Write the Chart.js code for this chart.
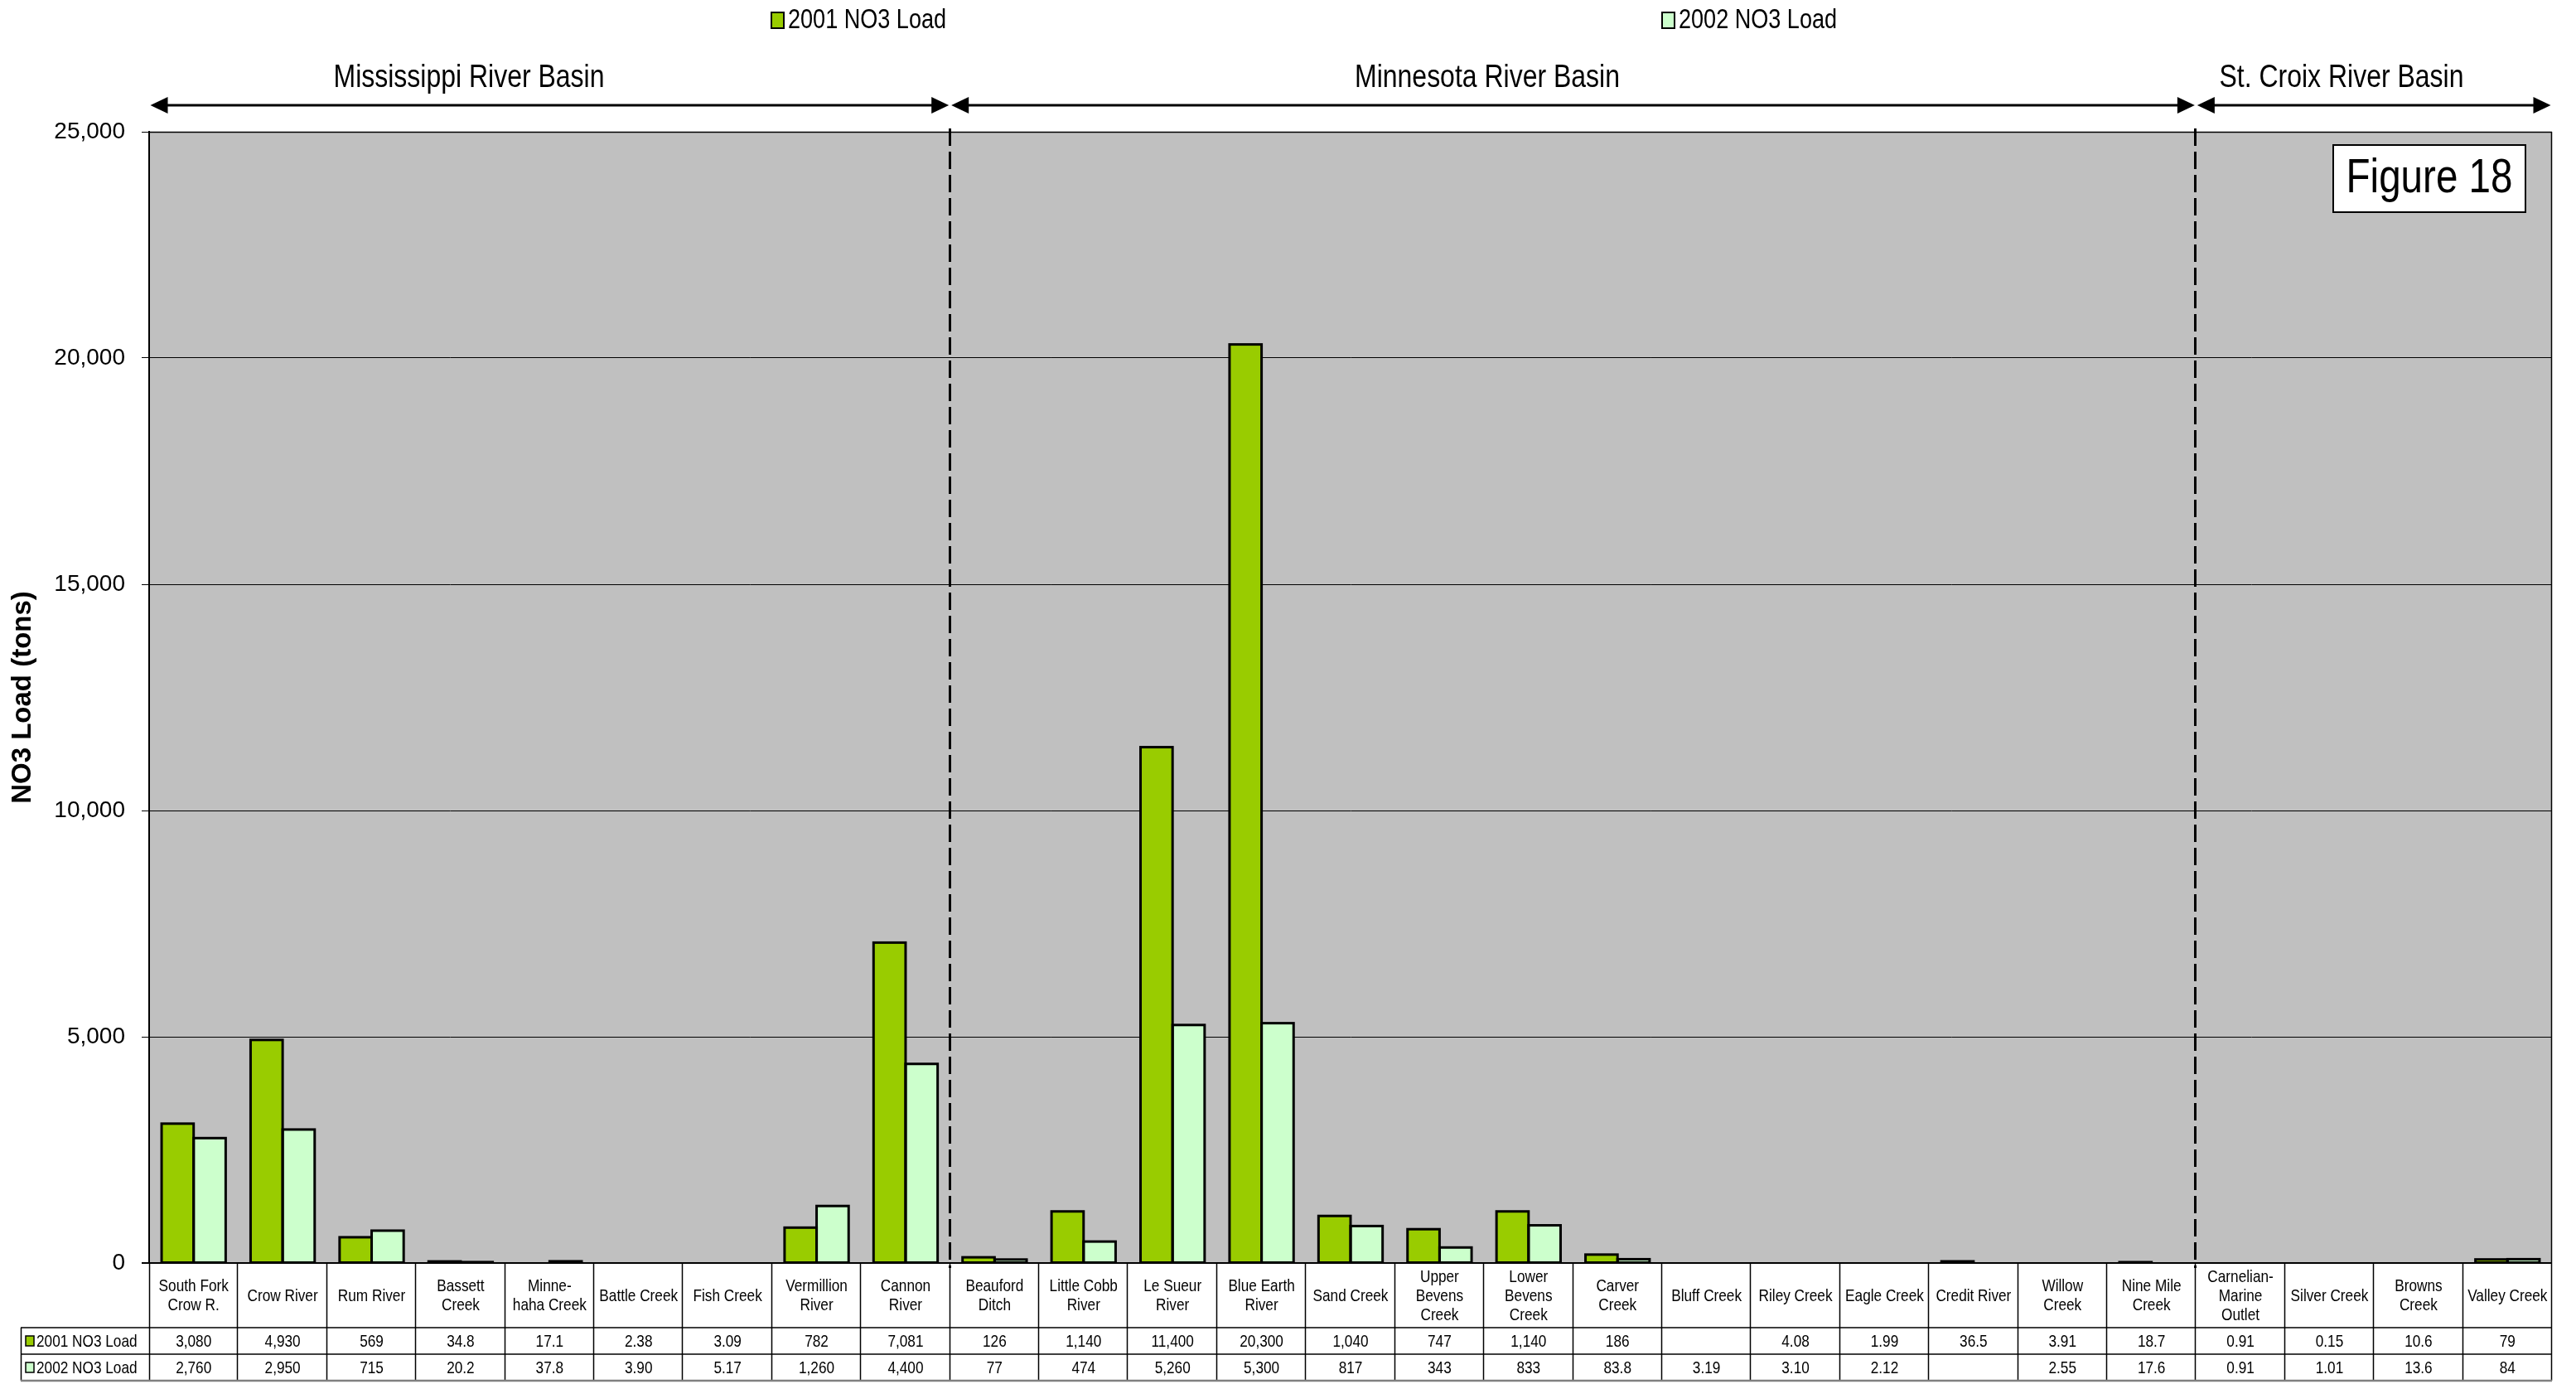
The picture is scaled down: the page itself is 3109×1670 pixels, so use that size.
<!DOCTYPE html>
<html>
<head>
<meta charset="utf-8">
<script src="https://cdn.jsdelivr.net/npm/chart.js@4.4.1/dist/chart.umd.min.js"></script>
<style>
html,body{margin:0;padding:0;background:#ffffff;}
#wrap{width:3109px;height:1670px;position:relative;}
</style>
</head>
<body>
<div id="wrap"><canvas id="c" width="3109" height="1670"></canvas></div>
<script>
// ---------------- DATA ----------------
const categories = [
  ['South Fork','Crow R.'], ['Crow River'], ['Rum River'], ['Bassett','Creek'], ['Minne-','haha Creek'],
  ['Battle Creek'], ['Fish Creek'], ['Vermillion','River'], ['Cannon','River'],
  ['Beauford','Ditch'], ['Little Cobb','River'], ['Le Sueur','River'], ['Blue Earth','River'], ['Sand Creek'],
  ['Upper','Bevens','Creek'], ['Lower','Bevens','Creek'], ['Carver','Creek'], ['Bluff Creek'], ['Riley Creek'],
  ['Eagle Creek'], ['Credit River'], ['Willow','Creek'], ['Nine Mile','Creek'],
  ['Carnelian-','Marine','Outlet'], ['Silver Creek'], ['Browns','Creek'], ['Valley Creek']
];
const seriesNames = ['2001 NO3 Load', '2002 NO3 Load'];
const load2001 = [3080, 4930, 569, 34.8, 17.1, 2.38, 3.09, 782, 7081, 126, 1140, 11400, 20300, 1040, 747, 1140, 186, null, 4.08, 1.99, 36.5, 3.91, 18.7, 0.91, 0.15, 10.6, 79];
const load2002 = [2760, 2950, 715, 20.2, 37.8, 3.90, 5.17, 1260, 4400, 77, 474, 5260, 5300, 817, 343, 833, 83.8, 3.19, 3.10, 2.12, null, 2.55, 17.6, 0.91, 1.01, 13.6, 84];
const table2001 = ['3,080','4,930','569','34.8','17.1','2.38','3.09','782','7,081','126','1,140','11,400','20,300','1,040','747','1,140','186','','4.08','1.99','36.5','3.91','18.7','0.91','0.15','10.6','79'];
const table2002 = ['2,760','2,950','715','20.2','37.8','3.90','5.17','1,260','4,400','77','474','5,260','5,300','817','343','833','83.8','3.19','3.10','2.12','','2.55','17.6','0.91','1.01','13.6','84'];
const yTicks = [0, 5000, 10000, 15000, 20000, 25000];
const basinNames = ['Mississippi River Basin', 'Minnesota River Basin', 'St. Croix River Basin'];
const basinFirstCategory = [0, 9, 23];
const basinLastCategory = [8, 22, 26];
const yTitle = 'NO3 Load (tons)';
const figureLabel = 'Figure 18';

// ---------------- STYLE ----------------
const seriesColors = ['#99CC00', '#CCFFCC'];
const plotBg = '#C0C0C0';
const SANS = '"Liberation Sans", Arial, sans-serif';
function fontAvailable(name){
  const c = document.createElement('canvas').getContext('2d');
  const s = 'abcdefghijklmWWiil0123';
  c.font = '40px monospace'; const a = c.measureText(s).width;
  c.font = '40px "' + name + '", monospace'; const b = c.measureText(s).width;
  return a !== b;
}
const HAS_NARROW = fontAvailable('Liberation Sans Narrow');
function narrowText(ctx, text, x, y, size, align, weight){
  ctx.save();
  ctx.textAlign = align || 'center';
  ctx.textBaseline = 'middle';
  ctx.fillStyle = '#000';
  if (HAS_NARROW){
    ctx.font = (weight||'normal') + ' ' + size + 'px "Liberation Sans Narrow", ' + SANS;
    ctx.fillText(text, x, y);
  } else {
    ctx.font = (weight||'normal') + ' ' + size + 'px ' + SANS;
    ctx.translate(x, y); ctx.scale(0.82, 1);
    ctx.fillText(text, 0, 0);
  }
  ctx.restore();
}

function boundaryX(a, i){ // left boundary of category i
  const n = categories.length;
  const w = (a.right - a.left) / n;
  return a.left + i * w;
}

const decorPlugin = {
  id: 'decor',
  beforeDraw(chart){
    const {ctx, chartArea: a} = chart;
    ctx.save();
    ctx.fillStyle = '#fff';
    ctx.fillRect(0, 0, chart.width, chart.height);
    ctx.fillStyle = plotBg;
    ctx.fillRect(a.left, a.top, a.right - a.left, a.bottom - a.top);
    ctx.restore();
  },
  afterDatasetsDraw(chart){
    const {ctx} = chart;
    ctx.save();
    ctx.strokeStyle = '#000';
    ctx.lineWidth = 3;
    ctx.lineJoin = 'miter';
    chart.data.datasets.forEach((ds, di) => {
      const meta = chart.getDatasetMeta(di);
      meta.data.forEach((bar, i) => {
        if (ds.data[i] === null || ds.data[i] === undefined) return;
        const h = bar.base - bar.y;
        if (h < 0.5) return;
        ctx.strokeRect(bar.x - bar.width / 2, bar.y, bar.width, h);
      });
    });
    ctx.restore();
  },
  afterDraw(chart){
    const {ctx, chartArea: a} = chart;
    const xs = chart.scales.x;
    const n = categories.length;
    ctx.save();

    // plot frame (right / top) and zero line
    ctx.strokeStyle = '#000';
    ctx.lineWidth = 1.5;
    ctx.beginPath();
    ctx.moveTo(a.left, a.top + 0.5); ctx.lineTo(a.right, a.top + 0.5);
    ctx.moveTo(a.right - 0.5, a.top); ctx.lineTo(a.right - 0.5, a.bottom);
    ctx.stroke();
    ctx.lineWidth = 2;
    ctx.beginPath();
    ctx.moveTo(a.left - 9, a.bottom); ctx.lineTo(a.right, a.bottom);
    ctx.stroke();

    // dashed basin separators
    ctx.setLineDash([21, 7]);
    ctx.lineWidth = 3;
    for (let b = 1; b < basinFirstCategory.length; b++){
      const x = Math.round(boundaryX(a, basinFirstCategory[b])) - 0.5;
      ctx.beginPath();
      ctx.moveTo(x, a.top - 4);
      ctx.lineTo(x, a.bottom + 6);
      ctx.stroke();
    }
    ctx.setLineDash([]);

    // basin arrows and labels
    const arrowY = 127, headL = 21, headH = 10;
    const labelCx = [566, 1795, 2826];
    basinNames.forEach((name, b) => {
      const x0 = boundaryX(a, basinFirstCategory[b]) + 1.5;
      const x1 = boundaryX(a, basinLastCategory[b] + 1) - 1.5;
      ctx.strokeStyle = '#000'; ctx.fillStyle = '#000'; ctx.lineWidth = 3;
      ctx.beginPath(); ctx.moveTo(x0 + headL - 2, arrowY); ctx.lineTo(x1 - headL + 2, arrowY); ctx.stroke();
      ctx.beginPath(); ctx.moveTo(x0, arrowY); ctx.lineTo(x0 + headL, arrowY - headH); ctx.lineTo(x0 + headL, arrowY + headH); ctx.closePath(); ctx.fill();
      ctx.beginPath(); ctx.moveTo(x1, arrowY); ctx.lineTo(x1 - headL, arrowY - headH); ctx.lineTo(x1 - headL, arrowY + headH); ctx.closePath(); ctx.fill();
      narrowText(ctx, name, labelCx[b], 94, 39, 'center');
    });

    // legend
    const legX = [931, 2006];
    seriesNames.forEach((nm, i) => {
      ctx.fillStyle = seriesColors[i];
      ctx.fillRect(legX[i], 15, 15, 19);
      ctx.strokeStyle = '#000'; ctx.lineWidth = 2;
      ctx.strokeRect(legX[i], 15, 15, 19);
      narrowText(ctx, nm, legX[i] + 20, 25, 33, 'left');
    });

    // Figure box
    ctx.fillStyle = '#fff';
    ctx.fillRect(2816, 175, 232, 81);
    ctx.strokeStyle = '#000'; ctx.lineWidth = 2;
    ctx.strokeRect(2816, 175, 232, 81);
    narrowText(ctx, figureLabel, 2932, 216, 58, 'center');

    // y axis title
    ctx.save();
    ctx.translate(28, (a.top + a.bottom) / 2);
    ctx.rotate(-Math.PI / 2);
    ctx.font = 'bold 33px ' + SANS;
    ctx.fillStyle = '#000';
    ctx.textAlign = 'center'; ctx.textBaseline = 'middle';
    ctx.fillText(yTitle, 0, 0);
    ctx.restore();

    // data table
    const hTop = a.bottom, r1 = 1602, r2 = 1634, r3 = 1666, tLeft = 25;
    ctx.strokeStyle = '#000'; ctx.lineWidth = 1.5;
    ctx.beginPath();
    for (let i = 0; i <= n; i++){
      const x = Math.round(boundaryX(a, i)) + (i === 0 ? 0.5 : -0.5);
      ctx.moveTo(x, hTop); ctx.lineTo(x, r3);
    }
    ctx.moveTo(tLeft, r1); ctx.lineTo(a.right, r1);
    ctx.moveTo(tLeft, r2); ctx.lineTo(a.right, r2);
    ctx.moveTo(tLeft + 0.5, r1); ctx.lineTo(tLeft + 0.5, r3);
    ctx.stroke();
    ctx.strokeStyle = '#808080'; ctx.lineWidth = 2.5;
    ctx.beginPath(); ctx.moveTo(tLeft, r3); ctx.lineTo(a.right, r3); ctx.stroke();

    const hMid = (hTop + r1) / 2, lh = 23;
    categories.forEach((lines, i) => {
      const cx = xs.getPixelForValue(i);
      lines.forEach((ln, k) => {
        narrowText(ctx, ln, cx, hMid + (k - (lines.length - 1) / 2) * lh + 1, 21, 'center');
      });
      narrowText(ctx, table2001[i], cx, (r1 + r2) / 2 + 1, 21, 'center');
      narrowText(ctx, table2002[i], cx, (r2 + r3) / 2 + 1, 21, 'center');
    });
    [[r1, r2], [r2, r3]].forEach((r, k) => {
      const cy = (r[0] + r[1]) / 2;
      ctx.fillStyle = seriesColors[k];
      ctx.fillRect(31, cy - 6, 10, 12);
      ctx.strokeStyle = '#000'; ctx.lineWidth = 1.5;
      ctx.strokeRect(31, cy - 6, 10, 12);
      narrowText(ctx, seriesNames[k], 44, cy + 1, 21, 'left');
    });
    ctx.restore();
  }
};

Chart.defaults.font.family = SANS;
Chart.defaults.color = '#000';

new Chart(document.getElementById('c'), {
  type: 'bar',
  data: {
    labels: categories,
    datasets: [
      { label: seriesNames[0], data: load2001, backgroundColor: seriesColors[0], borderColor: '#000', borderWidth: 0 },
      { label: seriesNames[1], data: load2002, backgroundColor: seriesColors[1], borderColor: '#000', borderWidth: 0 }
    ]
  },
  options: {
    responsive: false,
    animation: false,
    devicePixelRatio: 1,
    datasets: { bar: { categoryPercentage: 0.72, barPercentage: 1.0 } },
    layout: { padding: { left: 0, top: 159, right: 29, bottom: 146 } },
    plugins: { legend: { display: false }, tooltip: { enabled: false }, title: { display: false } },
    scales: {
      x: { display: false, offset: true },
      y: {
        min: 0, max: 25000,
        afterBuildTicks: s => { s.ticks = yTicks.map(v => ({ value: v })); },
        afterFit: s => { s.width = 180; },
        grid: { color: '#000', lineWidth: 1, tickLength: 9, drawTicks: true },
        border: { display: true, color: '#000', width: 2 },
        ticks: { font: { size: 28, family: SANS }, color: '#000', padding: 20 }
      }
    }
  },
  plugins: [decorPlugin]
});
</script>
</body>
</html>
